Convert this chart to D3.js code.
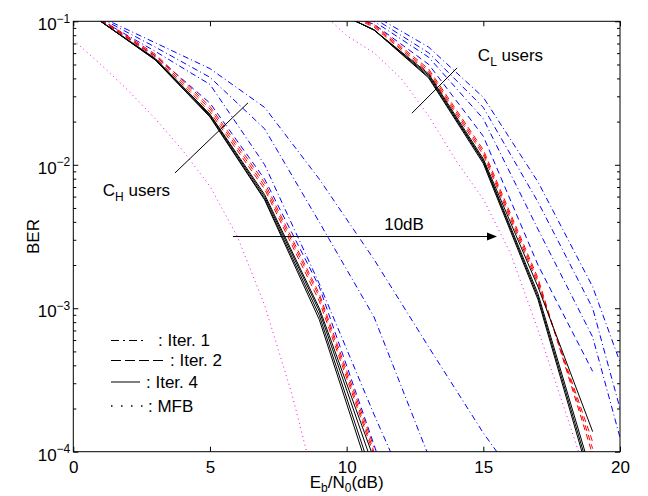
<!DOCTYPE html>
<html>
<head>
<meta charset="utf-8">
<script src="https://cdn.jsdelivr.net/npm/d3@7"></script>
<style>
  body { margin: 0; background: #fff; }
  text { font-family: "Liberation Sans", Arial, Helvetica, sans-serif; fill: #000; }
</style>
</head>
<body>
<div id="chart"></div>
<script>
// E_b/N_0 grid (dB)
var snrH = [1, 3, 5, 7, 9, 11, 13, 15, 17];
var snrL = [9, 11, 13, 15, 17, 19, 21];
var snrMfbH = [0, 1, 2, 3, 4, 5, 6, 7, 8, 9];
var snrMfbL = [9, 10, 11, 12, 13, 14, 15, 16, 17, 18, 19];

// C_H users
var iter1H = [
  [0.102, 0.0617, 0.0363, 0.0100, 0.00148, 0.000182, 0.000025],
  [0.105, 0.0661, 0.0407, 0.0178, 0.00398, 0.000871, 0.000093, 0.00001],
  [0.107, 0.0708, 0.0468, 0.0251, 0.00794, 0.00219, 0.000537, 0.000135, 0.00004]
];
var iter2bH = [
  [0.102, 0.0575, 0.0269, 0.00794, 0.00141, 0.000112, 0.000008]
];
var iter2H = [
  [0.102, 0.0562, 0.0234, 0.00676, 0.00112, 0.000095],
  [0.103, 0.0575, 0.0245, 0.0071, 0.00120, 0.000100],
  [0.104, 0.0590, 0.0255, 0.0075, 0.00126, 0.000107]
];
var iter4H = [
  [0.100, 0.0537, 0.0215, 0.00569, 0.000832, 0.000056],
  [0.100, 0.0540, 0.0218, 0.00580, 0.000891, 0.000063],
  [0.100, 0.0545, 0.0222, 0.00600, 0.000955, 0.000076],
  [0.100, 0.0550, 0.0225, 0.00620, 0.001000, 0.000089]
];
var mfbH = [0.0741, 0.0501, 0.0331, 0.0209, 0.0126, 0.00708, 0.00316, 0.00105, 0.000251, 0.000045];

// C_L users
var iter1L = [
  [0.128, 0.100, 0.0562, 0.0209, 0.00355, 0.00063, 0.000025],
  [0.130, 0.105, 0.0603, 0.0251, 0.00550, 0.00100, 0.00004],
  [0.132, 0.110, 0.0661, 0.0295, 0.00759, 0.00141, 0.000126]
];
var iter2bL = [
  [0.126, 0.0955, 0.0501, 0.0158, 0.00200, 0.000363]
];
var iter2L = [
  [0.135, 0.0912, 0.0437, 0.0117, 0.00148, 0.000117],
  [0.136, 0.0930, 0.0450, 0.0122, 0.00155, 0.000105],
  [0.137, 0.0950, 0.0465, 0.0127, 0.00162, 0.000095]
];
var iter4L = [
  [0.132, 0.0871, 0.0403, 0.0102, 0.00115, 0.000055],
  [0.132, 0.0871, 0.0410, 0.0105, 0.00120, 0.000060],
  [0.132, 0.0871, 0.0420, 0.0107, 0.00126, 0.000066],
  [0.132, 0.0871, 0.0430, 0.0110, 0.00141, 0.000138]
];
var mfbL = [0.120, 0.0794, 0.0603, 0.0398, 0.0219, 0.0107, 0.00575, 0.0024, 0.000708, 0.000191, 0.00005];

var xTicks = [0, 5, 10, 15, 20];
var yTicks = [1e-4, 1e-3, 1e-2, 1e-1];
var yTickExp = ["\u22124", "\u22123", "\u22122", "\u22121"];
var legendLabels = [": Iter. 1", ": Iter. 2", ": Iter. 4", ": MFB"];

var svgWidth = 648;
var svgHeight = 496;
var margin = { top: 21.3, right: 28, bottom: 44.3, left: 73.3 };
var width = svgWidth - margin.left - margin.right;
var height = svgHeight - margin.top - margin.bottom;

var svg = d3.select("#chart")
  .append("svg")
  .attr("width", svgWidth)
  .attr("height", svgHeight);

var chartGroup = svg.append("g")
  .attr("transform", `translate(${margin.left}, ${margin.top})`);

var xScale = d3.scaleLinear().domain([0, 20]).range([0, width]);
var yScale = d3.scaleLog().domain([1e-4, 1e-1]).range([height, 0]);

chartGroup.append("clipPath").attr("id", "plotclip")
  .append("rect").attr("width", width).attr("height", height);

var plot = chartGroup.append("g").attr("clip-path", "url(#plotclip)");

var line = d3.line()
  .x(d => xScale(d[0]))
  .y(d => yScale(d[1]));

function drawSet(snr, sets, color, dash) {
  sets.forEach(function(vals) {
    plot.append("path")
      .datum(vals.map((v, i) => [snr[i], v]))
      .attr("d", line)
      .attr("fill", "none")
      .attr("stroke", color)
      .attr("stroke-width", 1)
      .attr("stroke-dasharray", dash);
  });
}

// MFB
drawSet(snrMfbH, [mfbH], "#ff00ff", "1,3.5");
drawSet(snrMfbL, [mfbL], "#ff00ff", "1,3.5");
// iteration 1 / 2 (blue)
drawSet(snrH, iter1H, "#0000ff", "6,3,1,3");
drawSet(snrL, iter1L, "#0000ff", "6,3,1,3");
drawSet(snrH, iter2bH, "#0000ff", "6,4");
drawSet(snrL, iter2bL, "#0000ff", "6,4");
// iteration 2 (red)
drawSet(snrH, iter2H, "#ff0000", "6,4");
drawSet(snrL, iter2L, "#ff0000", "6,4");
// iteration 4
drawSet(snrH, iter4H, "#000000", null);
drawSet(snrL, iter4L, "#000000", null);

// Axes (MATLAB style: ticks inside, full box)
var minorTicks = [];
[1e-4, 1e-3, 1e-2].forEach(function(d) {
  for (var k = 2; k <= 9; k++) minorTicks.push(d * k);
});

function styleAxis(g) {
  g.select(".domain").remove();
  g.selectAll("line").attr("stroke", "#000");
  g.selectAll("text").attr("font-size", 17).attr("fill", "#000")
    .attr("font-family", "Liberation Sans, Arial, sans-serif");
}

chartGroup.append("g")
  .attr("transform", `translate(0, ${height})`)
  .call(d3.axisBottom(xScale).tickValues(xTicks).tickSize(-5).tickPadding(9).tickFormat(d3.format("d")))
  .call(styleAxis);

chartGroup.append("g")
  .call(d3.axisTop(xScale).tickValues(xTicks).tickSize(-5).tickFormat(""))
  .call(styleAxis);

var yAxisLeft = chartGroup.append("g")
  .call(d3.axisLeft(yScale).tickValues(yTicks).tickSize(-5).tickPadding(3).tickFormat(""))
  .call(styleAxis);

yAxisLeft.selectAll(".tick text")
  .attr("dy", "0.5em")
  .each(function(d, i) {
    var t = d3.select(this);
    t.text(null);
    t.append("tspan").text("10");
    t.append("tspan").attr("dy", "-0.62em").attr("font-size", 12).text(yTickExp[i]);
  });

chartGroup.append("g")
  .call(d3.axisLeft(yScale).tickValues(minorTicks).tickSize(-3).tickFormat(""))
  .call(styleAxis);

chartGroup.append("g")
  .attr("transform", `translate(${width}, 0)`)
  .call(d3.axisRight(yScale).tickValues(yTicks).tickSize(-5).tickFormat(""))
  .call(styleAxis);

chartGroup.append("g")
  .attr("transform", `translate(${width}, 0)`)
  .call(d3.axisRight(yScale).tickValues(minorTicks).tickSize(-3).tickFormat(""))
  .call(styleAxis);

chartGroup.append("rect")
  .attr("width", width)
  .attr("height", height)
  .attr("fill", "none")
  .attr("stroke", "#000")
  .attr("stroke-width", 1);

// Axis labels
var xLabel = chartGroup.append("text")
  .attr("x", xScale(10))
  .attr("y", height + 36)
  .attr("text-anchor", "middle")
  .attr("font-size", 17);
xLabel.append("tspan").text("E");
xLabel.append("tspan").attr("dy", 4).attr("font-size", 12).text("b");
xLabel.append("tspan").attr("dy", -4).text("/N");
xLabel.append("tspan").attr("dy", 4).attr("font-size", 12).text("0");
xLabel.append("tspan").attr("dy", -4).text("(dB)");

chartGroup.append("text")
  .attr("transform", "rotate(-90)")
  .attr("x", -(yScale(10 ** -2.5)))
  .attr("y", -34)
  .attr("text-anchor", "middle")
  .attr("font-size", 17)
  .text("BER");

// Annotations
chartGroup.append("line")
  .attr("x1", xScale(3.72)).attr("y1", yScale(0.00877))
  .attr("x2", xScale(6.39)).attr("y2", yScale(0.027))
  .attr("stroke", "#000");

var cH = chartGroup.append("text")
  .attr("x", xScale(1.08))
  .attr("y", yScale(0.0061))
  .attr("font-size", 17);
cH.append("tspan").text("C");
cH.append("tspan").attr("dy", 5).attr("font-size", 12).text("H");
cH.append("tspan").attr("dy", -5).text(" users");

chartGroup.append("line")
  .attr("x1", xScale(12.39)).attr("y1", yScale(0.0229))
  .attr("x2", xScale(14.04)).attr("y2", yScale(0.0473))
  .attr("stroke", "#000");

var cL = chartGroup.append("text")
  .attr("x", xScale(14.8))
  .attr("y", yScale(0.0525))
  .attr("font-size", 17);
cL.append("tspan").text("C");
cL.append("tspan").attr("dy", 5).attr("font-size", 12).text("L");
cL.append("tspan").attr("dy", -5).text(" users");

// 10 dB arrow
var arrowY = yScale(0.00316);
chartGroup.append("line")
  .attr("x1", xScale(5.84)).attr("y1", arrowY)
  .attr("x2", xScale(15.5) - 8).attr("y2", arrowY)
  .attr("stroke", "#000");
chartGroup.append("path")
  .attr("d", `M${xScale(15.5)},${arrowY} l-10,-4 l0,8 z`)
  .attr("fill", "#000");
chartGroup.append("text")
  .attr("x", xScale(12.1))
  .attr("y", arrowY - 7)
  .attr("text-anchor", "middle")
  .attr("font-size", 17)
  .text("10dB");

// Legend (drawn in plot pixels, MATLAB text-style legend)
var legendX = 111 - margin.left;
var legendRows = [
  { y: 340.5, len: 34, dash: "8,4,2,4", textX: 158 },
  { y: 360.5, len: 52, dash: "10,4", textX: 170 },
  { y: 382, len: 29, dash: null, textX: 146 },
  { y: 406, len: 32, dash: "1.5,8.5", textX: 148 }
];
legendRows.forEach(function(r, i) {
  chartGroup.append("line")
    .attr("x1", legendX).attr("x2", legendX + r.len)
    .attr("y1", r.y - margin.top).attr("y2", r.y - margin.top)
    .attr("stroke", "#000")
    .attr("stroke-width", i === 3 ? 1.5 : 1)
    .attr("stroke-dasharray", r.dash);
  chartGroup.append("text")
    .attr("x", r.textX - margin.left)
    .attr("y", r.y - margin.top + 6)
    .attr("font-size", 17)
    .text(legendLabels[i]);
});
</script>
</body>
</html>
